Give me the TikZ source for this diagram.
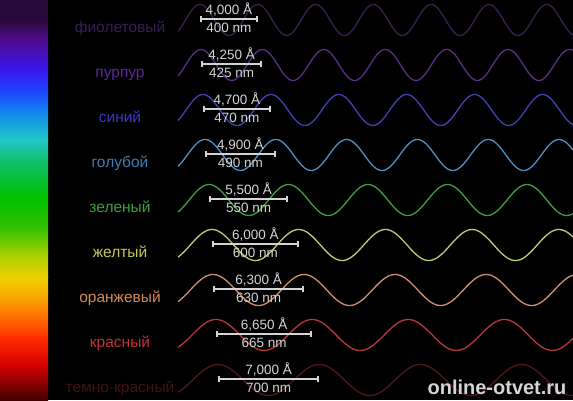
\documentclass[tikz,border=0pt]{standalone}
\usepackage{fontspec}
\setmainfont{Liberation Sans}
\usetikzlibrary{arrows.meta}
% label text colours
\definecolor{t0}{HTML}{3A1D55}
\definecolor{t1}{HTML}{5A2AA0}
\definecolor{t2}{HTML}{3838C4}
\definecolor{t3}{HTML}{3F7DB5}
\definecolor{t4}{HTML}{3C9E3C}
\definecolor{t5}{HTML}{C8C85A}
\definecolor{t6}{HTML}{D38A55}
\definecolor{t7}{HTML}{C03535}
\definecolor{t8}{HTML}{401212}
% wave colours
\definecolor{w0}{HTML}{3A2052}
\definecolor{w1}{HTML}{5A3088}
\definecolor{w2}{HTML}{4242B8}
\definecolor{w3}{HTML}{5090C4}
\definecolor{w4}{HTML}{40A040}
\definecolor{w5}{HTML}{C8C870}
\definecolor{w6}{HTML}{D09070}
\definecolor{w7}{HTML}{B83838}
\definecolor{w8}{HTML}{501818}
\definecolor{labgray}{HTML}{D4D4D4}
% spectrum stops
\definecolor{s0}{HTML}{2A0A3A}
\definecolor{s1}{HTML}{500A90}
\definecolor{s2}{HTML}{3A14E8}
\definecolor{s3}{HTML}{2040FF}
\definecolor{s4}{HTML}{1080F0}
\definecolor{s5}{HTML}{20C8C8}
\definecolor{s6}{HTML}{10C070}
\definecolor{s7}{HTML}{00C000}
\definecolor{s8}{HTML}{30C000}
\definecolor{s9}{HTML}{A0D000}
\definecolor{s10}{HTML}{F0D000}
\definecolor{s11}{HTML}{F8B000}
\definecolor{s12}{HTML}{FF7000}
\definecolor{s13}{HTML}{FF2800}
\definecolor{s14}{HTML}{D00000}
\definecolor{s15}{HTML}{400000}
\tikzset{
  wave/.style={line width=1.3pt},
  namelabel/.style={font=\fontsize{15.5}{16}\selectfont, anchor=base, inner sep=0pt},
  wllabel/.style={font=\fontsize{13.5}{14}\selectfont, text=labgray, anchor=base, inner sep=0pt},
  wlbar/.style={draw=labgray, line width=2pt, {Bar[width=6pt]}-{Bar[width=6pt]}},
  watermark/.style={font=\bfseries\fontsize{20}{20}\selectfont, text=labgray, inner sep=0pt}
}
\begin{document}
\begin{tikzpicture}[x=1pt,y=-1pt]
\fill[black] (0,0) rectangle (573,400);
\useasboundingbox (0,0) rectangle (573,400);
% spectrum bar
\foreach \ya/\yb/\ca/\cb in {0/20/s0/s0,20/40/s0/s1,40/67/s1/s2,67/90/s2/s3,90/110/s3/s4,110/140/s4/s5,140/160/s5/s6,160/197/s6/s7,197/227/s7/s8,227/253/s8/s9,253/277/s9/s10,277/293/s10/s11,293/317/s11/s12,317/340/s12/s13,340/367/s13/s14,367/400/s14/s15}
  \shade[top color=\ca, bottom color=\cb] (0,\ya-0.3) rectangle (48,\yb+0.3);
% rows
\foreach \i/\lam/\ang/\nmv/\name/\xo in {
  0/400/{4,000}/400/фиолетовый/200,
  1/425/{4,250}/425/пурпур/201,
  2/470/{4,700}/470/синий/203,
  3/490/{4,900}/490/голубой/205,
  4/550/{5,500}/550/зеленый/209,
  5/600/{6,000}/600/желтый/212,
  6/630/{6,300}/630/оранжевый/213,
  7/665/{6,650}/665/красный/216,
  8/700/{7,000}/700/темно-красный/218}{
  \pgfmathsetmacro\rc{20+45*\i}
  \pgfmathsetmacro\per{\lam*0.1445}
  \pgfmathsetmacro\kk{360/\per}
  \pgfmathsetmacro\xm{\xo+\per/2}
  \pgfmathsetmacro\xe{\xo+\per}
  \draw[wave, draw=w\i] plot[domain=178:573, samples=320, smooth] (\x,{\rc-15.5*cos(\kk*(\x-\xo))});
  \node[namelabel, text=t\i] (name\i) at (120,\rc+12) {\name};
  \coordinate (bs\i) at (\xo,\rc-1);
  \coordinate (be\i) at (\xe,\rc-1);
  \draw[wlbar] (bs\i) -- (be\i);
  \node[wllabel] (ang\i) at (\xm,\rc-6) {\ang~Å};
  \node[wllabel] (nm\i) at (\xm,\rc+12) {\nmv~nm};
}
\node[watermark] (wm) at (497,387) {online-otvet.ru};
\end{tikzpicture}
\end{document}
